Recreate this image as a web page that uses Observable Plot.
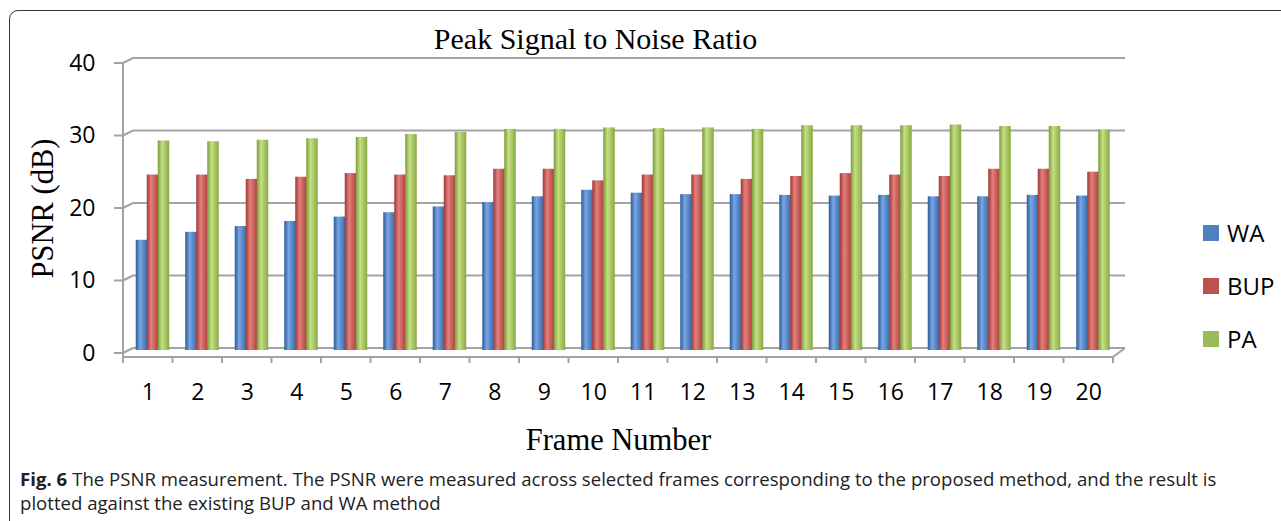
<!DOCTYPE html>
<html>
<head>
<meta charset="utf-8">
<script src="https://cdn.jsdelivr.net/npm/d3@7"></script>
<script src="https://cdn.jsdelivr.net/npm/@observablehq/plot@0.6"></script>
<style>
  html, body { margin: 0; padding: 0; background: #fff; width: 1281px; height: 521px; overflow: hidden; }
  #frame { position: absolute; left: 9px; top: 10px; width: 1300px; height: 540px;
           border: 1.5px solid #333; border-radius: 9px; box-sizing: border-box; }
  #chart { position: absolute; left: 0; top: 0; }
  #legend { position: absolute; left: 1203px; top: 206px; font-family: "Open Sans", sans-serif; font-size: 24px; color: #000; }
  #legend .item { display: flex; align-items: center; height: 53px; }
  #legend .sw { width: 16px; height: 16px; margin-right: 8px; }
  #caption { position: absolute; left: 20px; top: 467px; font-family: "Open Sans", sans-serif;
             font-size: 18.6px; line-height: 24px; color: #222; white-space: nowrap; }
  #caption b { font-weight: 700; margin-right: 5px; }
</style>
</head>
<body>
<div id="frame"></div>
<div id="chart"></div>
<div id="legend"></div>
<div id="caption">
  <div><b>Fig. 6</b><span>The PSNR measurement. The PSNR were measured across selected frames corresponding to the proposed method, and the result is</span></div>
  <div>plotted against the existing BUP and WA method</div>
</div>
<script>
// ---- data ----
const frames = ["1","2","3","4","5","6","7","8","9","10","11","12","13","14","15","16","17","18","19","20"];
const seriesNames = ["WA", "BUP", "PA"];
const WA  = [15.2, 16.3, 17.1, 17.8, 18.4, 19.0, 19.8, 20.4, 21.2, 22.1, 21.7, 21.5, 21.5, 21.4, 21.3, 21.4, 21.2, 21.2, 21.4, 21.3];
const BUP = [24.2, 24.2, 23.6, 23.9, 24.4, 24.2, 24.1, 25.0, 25.0, 23.4, 24.2, 24.2, 23.6, 24.0, 24.4, 24.2, 24.0, 25.0, 25.0, 24.6];
const PA  = [28.9, 28.8, 29.0, 29.2, 29.4, 29.8, 30.1, 30.5, 30.5, 30.7, 30.6, 30.7, 30.5, 31.0, 31.0, 31.0, 31.1, 30.9, 30.9, 30.4];
const yTicks = [0, 10, 20, 30, 40];
const colors = {WA: "#4F81BD", BUP: "#C0504D", PA: "#9BBB59"};

const valuesBySeries = {WA, BUP, PA};
const rows = seriesNames.flatMap(s => frames.map((f, i) => ({frame: f, series: s, value: valuesBySeries[s][i]})));

const GRID = "#a3a3a3";
const DX = 10, DY = 5; // 3D depth offset of the back wall

function walls(index, scales, values, dim) {
  const x = scales.x, y = scales.y;
  const g = d3.create("svg:g");
  const defs = g.append("defs");
  const shades = {
    WA:  ["#2c5a95", "#76a6e3", "#3a6aab"],
    BUP: ["#9c3633", "#e4807c", "#ad403c"],
    PA:  ["#7a9a3b", "#c5e083", "#88a944"]
  };
  for (const s of seriesNames) {
    const lg = defs.append("linearGradient").attr("id", "g" + s).attr("x1", "0").attr("x2", "1").attr("y1", "0").attr("y2", "0");
    lg.append("stop").attr("offset", "0%").attr("stop-color", shades[s][0]);
    lg.append("stop").attr("offset", "38%").attr("stop-color", shades[s][1]);
    lg.append("stop").attr("offset", "100%").attr("stop-color", shades[s][2]);
  }
  const x0 = dim.marginLeft, x1 = dim.width - dim.marginRight;
  const line = (a, b, c, d) => g.append("line").attr("x1", a).attr("y1", b).attr("x2", c).attr("y2", d)
      .attr("stroke", GRID).attr("stroke-width", 2);
  for (const t of yTicks) {
    const yy = y(t);
    line(x0 - 9, yy, x0, yy);               // left tick
    line(x0, yy, x0 + DX, yy - DY);          // side-wall diagonal
    if (t !== 0) line(x0 + DX, yy - DY, x1 + DX + 2, yy - DY); // back-wall gridline
  }
  const y0 = y(0);
  line(x0, y(40), x0, y0 + 4);              // front vertical axis
  line(x0 + DX, y0 - DY, x1 + DX + 2, y0 - DY); // back floor edge
  line(x0, y0 + 4, x1, y0 + 4);             // front floor edge
  line(x1, y0 + 4, x1 + DX + 2, y0 - DY);   // right floor edge
  for (const f of frames) line(x(f), y0 + 4, x(f), y0 + 10);
  line(x1, y0 + 4, x1, y0 + 10);
  return g.node();
}

function bars(s, dx) {
  return Plot.barY(rows.filter(d => d.series === s), {
    x: "frame", y: "value", fill: "url(#g" + s + ")",
    insetLeft: 19, insetRight: 19, dx, dy: -3
  });
}

const SERIF = "'Liberation Serif', 'Times New Roman', serif";
const chart = Plot.plot({
  width: 1281,
  height: 465,
  marginLeft: 123,
  marginRight: 168,
  marginTop: 63,
  marginBottom: 112,
  style: {fontFamily: "'Open Sans', sans-serif", fontSize: "23px", color: "#000", background: "transparent"},
  x: {domain: frames, padding: 0, round: false, tickSize: 0, tickPadding: 30, label: null},
  y: {domain: [0, 40], ticks: 4, tickSize: 0, tickPadding: 28, label: null},
  marks: [
    walls,
    bars("WA", -6.25),
    bars("BUP", 4.75),
    bars("PA", 15.75),
    Plot.text(["Peak Signal to Noise Ratio"], {frameAnchor: "top", lineAnchor: "middle", dx: -23, dy: -24, fontFamily: SERIF, fontSize: 30, fill: "#000"}),
    Plot.text(["PSNR (dB)"], {frameAnchor: "left", textAnchor: "middle", lineAnchor: "middle", dx: -80, rotate: -90, fontFamily: SERIF, fontSize: 30.5, fill: "#000"}),
    Plot.text(["Frame Number"], {frameAnchor: "bottom", lineAnchor: "middle", dx: 0, dy: 87, fontFamily: SERIF, fontSize: 30.5, fill: "#000"})
  ]
});
document.getElementById("chart").appendChild(chart);

const legend = d3.select("#legend");
for (const s of seriesNames) {
  const it = legend.append("div").attr("class", "item");
  it.append("div").attr("class", "sw").style("background", colors[s]);
  it.append("span").text(s);
}
</script>
</body>
</html>
